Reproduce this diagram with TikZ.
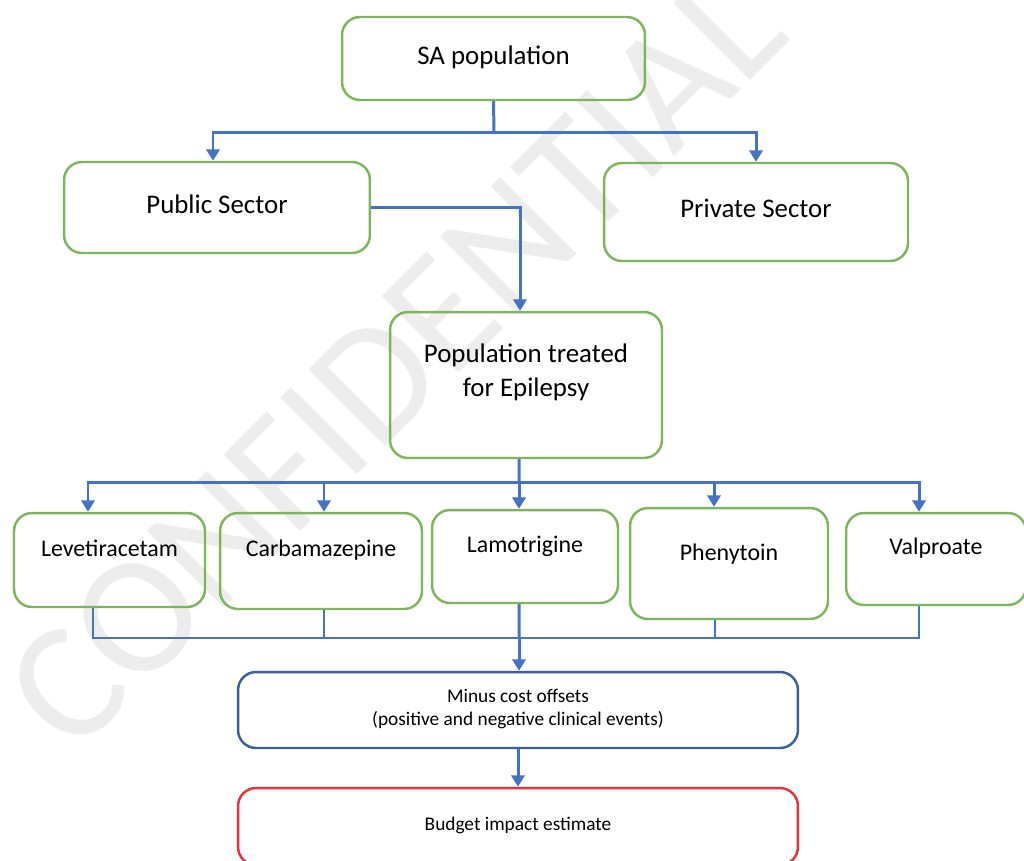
\documentclass[tikz,border=0pt]{standalone}
\usepackage{fontspec}
\setmainfont{Carlito}
\usetikzlibrary{arrows.meta}

\definecolor{boxgreen}{HTML}{7DB55A}
\definecolor{lineblue}{HTML}{4472C4}
\definecolor{offblue}{HTML}{3A5FA0}
\definecolor{budgetred}{HTML}{E8303A}

\begin{document}
\begin{tikzpicture}[x=0.02cm, y=-0.02cm,
  box/.style = {draw=boxgreen, line width=1.4pt, rounded corners=0.36cm, inner xsep=0pt, inner ysep=0pt, align=center},
  big/.style = {font=\fontsize{15.3}{19.3}\selectfont},
  mid/.style = {font=\fontsize{13.6}{16}\selectfont},
  small/.style = {font=\fontsize{11}{13}\selectfont},
  wire/.style = {draw=lineblue, line width=1.7pt},
  bus/.style = {draw=lineblue, line width=1.2pt},
  arr/.style = {wire, -{Triangle[width=7.5pt,length=6.5pt]}}]
\clip (0,0) rectangle (1024,860);

% watermark
\node[rotate=45, text=black!7, font=\fontsize{96}{96}\selectfont] (mark) at (395,360) {CONFIDENTIAL};

% boxes
\node[box, big, minimum width=6.06cm, text height=0.94cm, text depth=0.72cm] (sa) at (493.5,58.5) {SA population};
\node[box, big, minimum width=6.12cm, text height=1.02cm, text depth=0.80cm] (pub) at (217,207.5) {Public Sector};
\node[box, big, minimum width=6.08cm, text height=1.08cm, text depth=0.88cm] (priv) at (756,212) {Private Sector};
\node[box, big, minimum width=5.44cm, text height=1.68cm, text depth=1.24cm] (pop) at (526,385) {Population treated\\for Epilepsy};

\node[box, mid, minimum width=3.82cm, text height=0.86cm, text depth=1.02cm] (lev) at (109.5,560) {Levetiracetam};
\node[box, mid, minimum width=4.04cm, text height=0.86cm, text depth=1.06cm] (carb) at (321,561) {Carbamazepine};
\node[box, mid, minimum width=3.72cm, text height=0.84cm, text depth=1.02cm] (lam) at (525,556.5) {Lamotrigine};
\node[box, mid, minimum width=3.96cm, text height=1.04cm, text depth=1.18cm] (phen) at (729,563.5) {Phenytoin};
\node[box, mid, minimum width=3.60cm, text height=0.82cm, text depth=1.02cm] (val) at (936,559) {Valproate};

\node[box, small, draw=offblue, minimum width=11.2cm, text height=1.06cm, text depth=0.46cm] (minus) at (518,710) {Minus cost offsets\\(positive and negative clinical events)};
\node[box, small, draw=budgetred, minimum width=11.2cm, text height=0.84cm, text depth=0.70cm] (budget) at (518,826.5) {Budget impact estimate};

% connectors
\coordinate (t1) at (494,132);
\draw[wire] (sa.south) -- (t1);
\draw[arr] (t1) -| ([xshift=-0.08cm]pub.north);
\draw[arr] (t1) -| (priv.north);
\draw[arr] (pub.east) -| ([xshift=-0.12cm]pop.north);

\coordinate (t2) at (519,482);
\draw[wire] ([xshift=-0.14cm]pop.south) -- (t2);
\draw[arr] (t2) -| ([xshift=-0.43cm]lev.north);
\draw[arr] (t2) -| ([xshift=0.06cm]carb.north);
\draw[arr] (t2) -| ([xshift=-0.12cm]lam.north);
\draw[arr] (t2) -| ([xshift=-0.30cm]phen.north);
\draw[arr] (t2) -| ([xshift=-0.34cm]val.north);

\coordinate (t3) at (519,638);
\draw[bus] ([xshift=-0.33cm]lev.south) |- (t3);
\draw[bus] ([xshift=0.06cm]carb.south) |- (t3);
\draw[wire] ([xshift=-0.12cm]lam.south) -- (t3);
\draw[bus] ([xshift=-0.28cm]phen.south) |- (t3);
\draw[bus] ([xshift=-0.34cm]val.south) |- (t3);
\draw[arr] (t3) -- (t3 |- minus.north);
\draw[arr] (minus.south) -- (budget.north);
\end{tikzpicture}
\end{document}
